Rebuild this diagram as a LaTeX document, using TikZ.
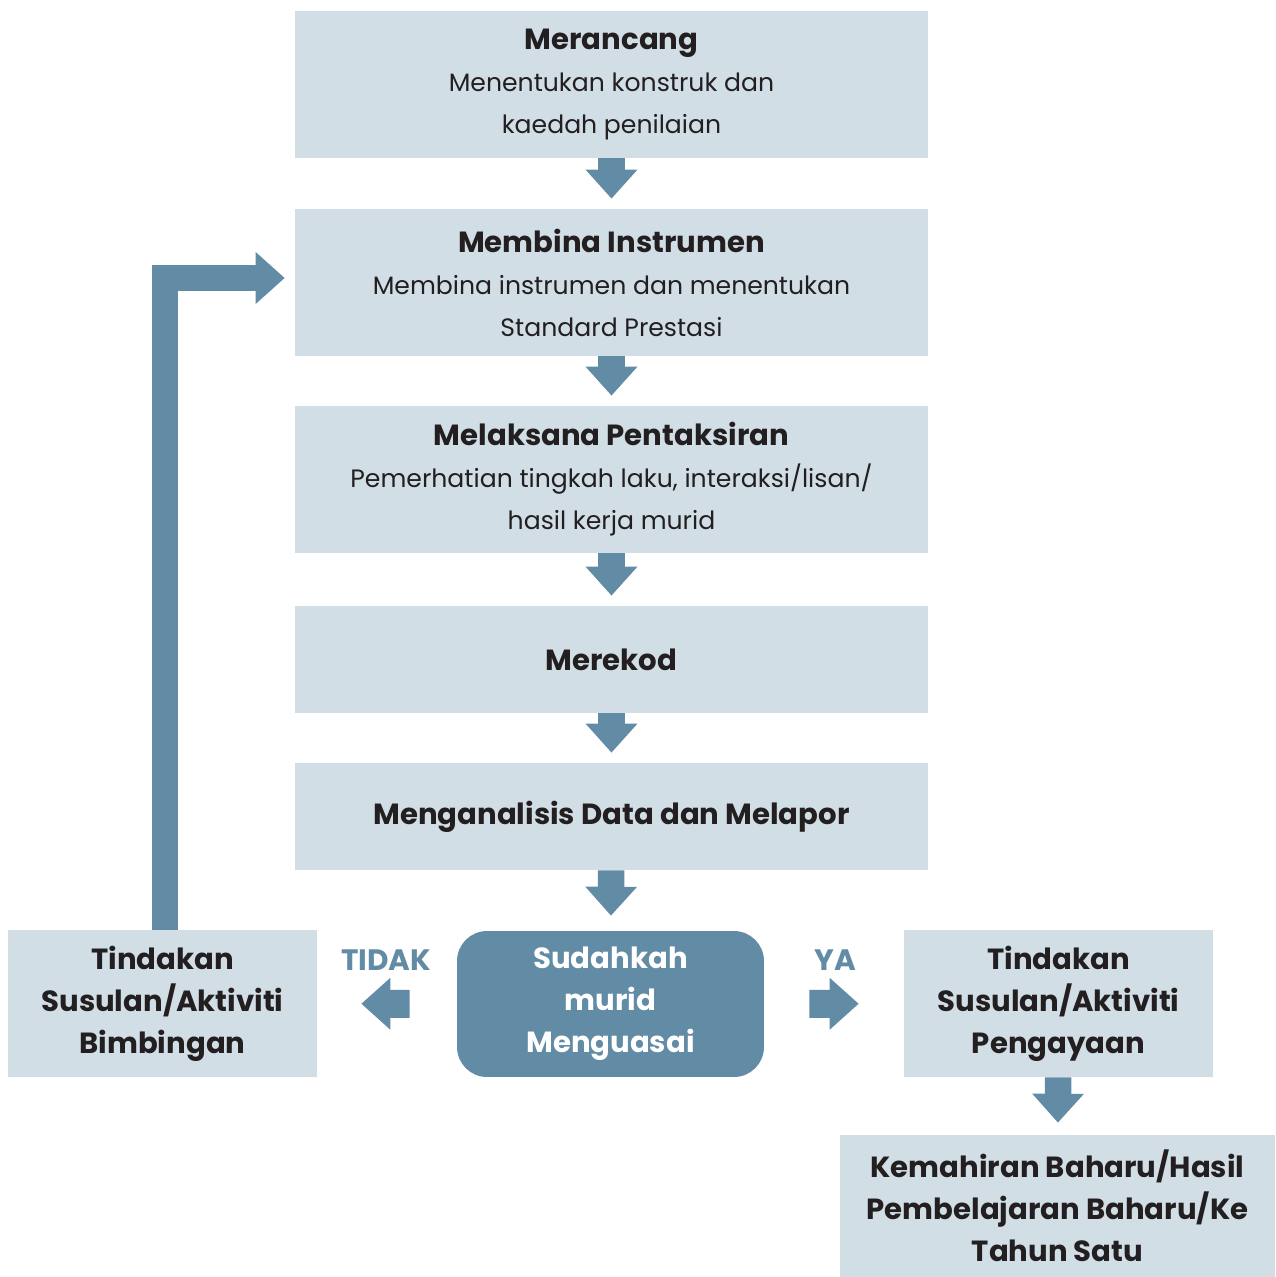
\documentclass[tikz,border=0pt]{standalone}
\usepackage{fontspec}
\setmainfont{Poppins}
\usetikzlibrary{arrows.meta}
\definecolor{boxblue}{HTML}{D1DEE6}
\definecolor{arrowblue}{HTML}{628BA6}
\definecolor{inkdark}{HTML}{231F20}
\newcommand{\heading}[1]{{\fontsize{16.6pt}{23.9pt}\selectfont\bfseries #1}}
\begin{document}
\begin{tikzpicture}[x=0.02cm,y=-0.02cm,
    box/.style={fill=boxblue,text=inkdark,inner sep=0pt,align=center,minimum width=12.66cm,minimum height=2.94cm,font=\fontsize{14.3pt}{23.9pt}\selectfont},
    flat/.style={box,minimum height=2.14cm,font=\fontsize{16.6pt}{23.9pt}\selectfont\bfseries},
    side/.style={box,minimum width=6.18cm,font=\fontsize{16.6pt}{23.9pt}\selectfont\bfseries},
    ask/.style={side,fill=arrowblue,text=white,rounded corners=0.6cm,minimum width=6.14cm,minimum height=2.92cm},
    answer/.style={text=arrowblue,inner sep=0pt,font=\fontsize{16.8pt}{17pt}\selectfont\bfseries},
    flow/.style={draw=arrowblue,line width=0.53cm,-{Triangle[width=1cm,length=0.58cm]},shorten >=0.2cm}]
  \useasboundingbox (0,0) rectangle (1275,1277);
  \node[box] (rancang) at (611.5,84.5) {\heading{Merancang}\\Menentukan konstruk dan\\kaedah penilaian};
  \node[box] (bina) at (611.5,282.5) {\heading{Membina Instrumen}\\Membina instrumen dan menentukan\\Standard Prestasi};
  \node[box] (laksana) at (611.5,479.5) {\heading{Melaksana Pentaksiran}\\Pemerhatian tingkah laku, interaksi/lisan/\\hasil kerja murid};
  \node[flat] (rekod) at (611.5,659.5) {Merekod};
  \node[flat] (analisis) at (611.5,816.5) {Menganalisis Data dan Melapor};
  \node[ask] (sudah) at (610.5,1004) {Sudahkah\\murid\\Menguasai};
  \node[side] (bimbingan) at (162.5,1003.5) {Tindakan\\Susulan/Aktiviti\\Bimbingan};
  \node[side] (pengayaan) at (1058.5,1003.5) {Tindakan\\Susulan/Aktiviti\\Pengayaan};
  \node[side,minimum width=8.7cm,minimum height=2.84cm] (baharu) at (1057.5,1206) {Kemahiran Baharu/Hasil\\Pembelajaran Baharu/Ke\\Tahun Satu};
  \node[answer] (tidak) at (386,960) {TIDAK};
  \node[answer] (ya) at (835,960) {YA};
  \draw[flow] (rancang) -- (bina);
  \draw[flow] (bina) -- (laksana);
  \draw[flow] (laksana) -- (rekod);
  \draw[flow] (rekod) -- (analisis);
  \draw[flow,shorten >=0.3cm] (analisis) -- (sudah);
  \draw[flow,shorten >=0.24cm] (pengayaan) -- (baharu);
  \draw[flow,line width=0.56cm,shorten <=0.94cm,shorten >=0.88cm] (sudah) -- (bimbingan);
  \draw[flow,line width=0.56cm,shorten <=0.9cm,shorten >=0.9cm] (sudah) -- (pengayaan);
  \draw[flow,line join=miter,shorten >=0.2cm] ([xshift=0.05cm]bimbingan.north) |- ([yshift=0.09cm]bina.west);
\end{tikzpicture}
\end{document}
